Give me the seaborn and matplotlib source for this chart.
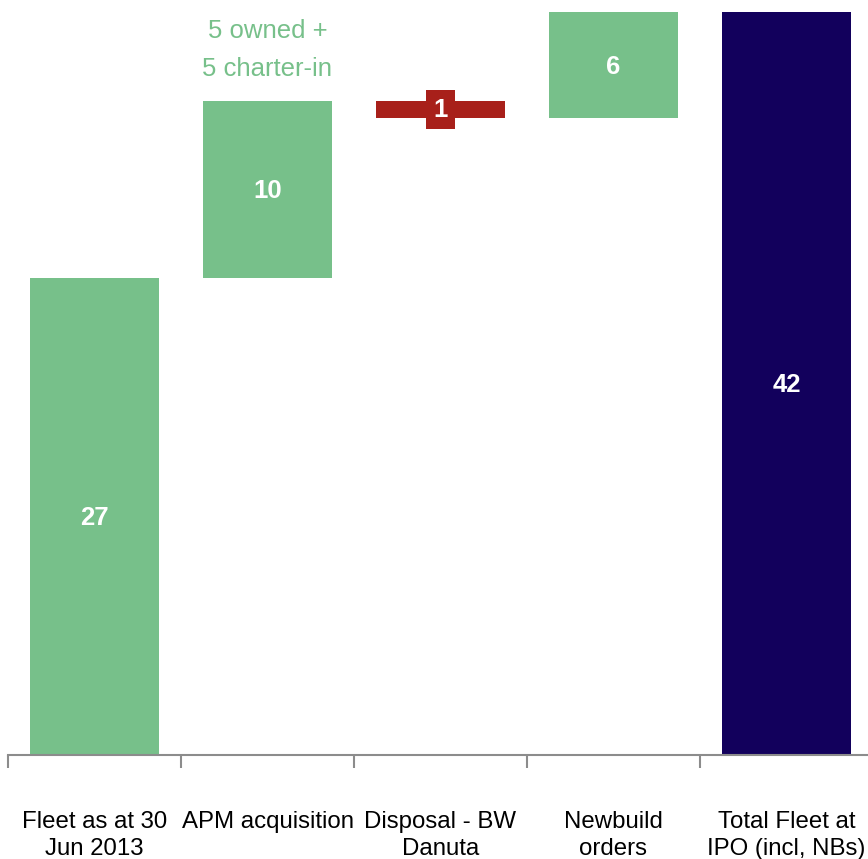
import matplotlib
matplotlib.use("Agg")
import matplotlib.pyplot as plt
import seaborn as sns
import numpy as np
import pandas as pd

# Fleet bridge: starting fleet, movements, resulting total
categories = ["Fleet as at 30\nJun 2013", "APM acquisition", "Disposal - BW\nDanuta",
              "Newbuild\norders", "Total Fleet at\nIPO (incl, NBs)"]
changes = [27, 10, -1, 6]
total = 42
value_labels = ["27", "10", "1", "6", "42"]
note_text = "5 owned +\n5 charter-in"

GREEN = "#77C08A"
RED = "#A8201A"
NAVY = "#12005C"
AXIS_GREY = "#8C8C8C"

# Floating segments of the waterfall
running = np.cumsum([0] + changes[:-1])
bottoms = []
heights = []
for start, step in zip(running, changes):
    bottoms.append(min(start, start + step))
    heights.append(abs(step))
bottoms.append(0)
heights.append(total)

df = pd.DataFrame({"category": categories, "height": heights})
colors = [GREEN if c > 0 else RED for c in changes] + [NAVY]

sns.set_theme(style="white")
plt.rcParams["font.family"] = ["Liberation Sans", "DejaVu Sans"]

fig = plt.figure(figsize=(8.68, 8.59), dpi=100)
ax = fig.add_axes([8 / 868, 104 / 859, 865 / 868, 755 / 859])

sns.barplot(data=df, x="category", y="height", bottom=bottoms, color=GREEN,
            width=0.75, errorbar=None, saturation=1, ax=ax)
for patch, col in zip(ax.patches, colors):
    patch.set_facecolor(col)
    patch.set_edgecolor("none")

ax.set_xlim(-0.5, 4.5)
ax.set_ylim(0, 42.7)

# Value labels
for i, (b, h, lab) in enumerate(zip(bottoms, heights, value_labels)):
    y = b + h / 2
    if i == 2:
        ax.text(i, y, lab, ha="center", va="center", color="white",
                fontsize=18.5, fontweight="bold",
                bbox=dict(boxstyle="square,pad=0.3", facecolor=RED, edgecolor="none"))
    else:
        ax.text(i, y - 0.1, lab, ha="center", va="center", color="white",
                fontsize=18.5, fontweight="bold")

# Note above the acquisition bar
ax.text(1, bottoms[1] + heights[1] + 1.1, note_text, ha="center", va="bottom",
        color=GREEN, fontsize=18.5, linespacing=1.75)

# Axes styling
for side in ["left", "top", "right"]:
    ax.spines[side].set_visible(False)
ax.spines["bottom"].set_color(AXIS_GREY)
ax.spines["bottom"].set_linewidth(1.5)
ax.set_yticks([])
ax.set_xticks(np.arange(-0.5, 5.0, 1.0))
ax.set_xticklabels([])
ax.tick_params(axis="x", which="major", direction="out", length=9, width=1.5,
               color=AXIS_GREY, bottom=True)
ax.set_xticks(np.arange(5), minor=True)
ax.set_xticklabels(categories, minor=True, fontsize=17.3, color="black",
                   linespacing=1.3)
ax.tick_params(axis="x", which="minor", length=0, pad=40.5)
ax.set_xlabel("")
ax.set_ylabel("")

fig.savefig("out.png", dpi=100, facecolor="white")
